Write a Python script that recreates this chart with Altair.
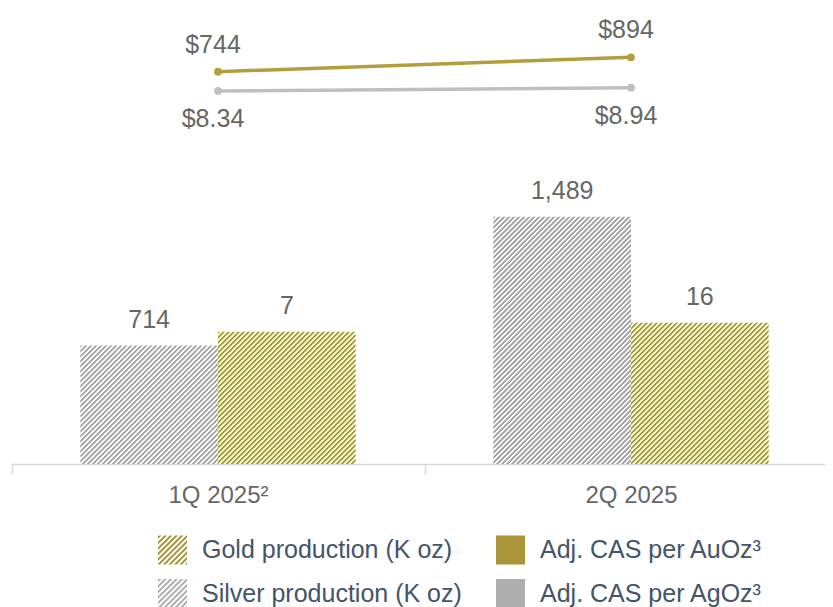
import math
import pandas as pd
import altair as alt

# ---------------- data ----------------
quarters = ["1Q 2025²", "2Q 2025"]
metals = ["Silver", "Gold"]
silver_production = [714, 1489]      # K oz
gold_production = [7, 16]            # K oz
cas_per_au = [744, 894]              # $ / AuOz
cas_per_ag = [8.34, 8.94]            # $ / AgOz
legend_labels = ["Gold production (K oz)", "Silver production (K oz)",
                 "Adj. CAS per AuOz³", "Adj. CAS per AgOz³"]

# ---------------- layout / style ----------------
W, H = 815, 456
X_RANGE = [1.5, 827.5]
SILVER_BAR_DOMAIN = [0, 2747]
GOLD_BAR_DOMAIN = [-125.3, 330.7]
AU_LINE_DOMAIN = [-3342.5, 1407.5]
AG_LINE_DOMAIN = [-59.48, 23.43]

GOLD_STRIPE, GOLD_BG = "#A59C2E", "#FBF8E2"
SILVER_STRIPE, SILVER_BG = "#A6A6A6", "#FFFFFF"
GOLD_LINE, SILVER_LINE = "#B39E3E", "#BFBFBF"
LEG_GOLD, LEG_SILVER = "#A99438", "#AEAEAE"
TXT = "#666666"
FONT = "Liberation Sans"


def hatch_gradient(w, h, stripe, bg, hperiod=5.0):
    """Diagonal '/' stripes with an exact horizontal period of hperiod px."""
    n = math.ceil((w + h) / hperiod)
    s = n * hperiod * w / (w * w + h * h)
    stops = []
    for i in range(n):
        a = i / n
        f = 1 / n
        stops += [{"offset": round(a, 6), "color": stripe},
                  {"offset": round(a + 0.38 * f, 6), "color": stripe},
                  {"offset": round(a + 0.52 * f, 6), "color": bg},
                  {"offset": round(a + 0.86 * f, 6), "color": bg}]
    stops.append({"offset": 1, "color": stripe})
    return {"gradient": "linear", "x1": 0, "y1": 0,
            "x2": round(s, 6), "y2": round(s * h / w, 6), "stops": stops}


def clip(poly, f):
    out = []
    for i in range(len(poly)):
        p, q = poly[i], poly[(i + 1) % len(poly)]
        fp, fq = f(p), f(q)
        if fp >= 0:
            out.append(p)
        if (fp >= 0) != (fq >= 0):
            t = fp / (fp - fq)
            out.append((p[0] + t * (q[0] - p[0]), p[1] + t * (q[1] - p[1])))
    return out


def hatch_path(period=0.38, duty=0.5):
    sq = [(-1, -1), (1, -1), (1, 1), (-1, 1)]
    parts = []
    c = -2.0 + 0.05
    while c < 2:
        c1, c2 = c, c + period * duty
        poly = clip(sq, lambda p: p[0] + p[1] - c1)
        poly = clip(poly, lambda p: c2 - p[0] - p[1])
        if len(poly) >= 3:
            parts.append("M " + " L ".join(f"{x:.3f} {y:.3f}" for x, y in poly) + " Z")
        c += period
    return " ".join(parts)


HATCH = hatch_path()

bars = pd.DataFrame({
    "quarter": quarters * 2,
    "metal": ["Silver"] * 2 + ["Gold"] * 2,
    "value": silver_production + gold_production,
})
cas = pd.DataFrame({"quarter": quarters, "au": cas_per_au, "ag": cas_per_ag})
leg = pd.DataFrame({"series": legend_labels})

x_enc = alt.X("quarter:N", sort=quarters,
              scale=alt.Scale(domain=quarters, range=X_RANGE, paddingInner=0, paddingOuter=0),
              axis=alt.Axis(title=None, labelAngle=0, domainColor="#D9D9D9", domainWidth=1.5,
                            tickColor="#D9D9D9", tickWidth=1.5, tickSize=10, tickBand="extent",
                            labelFont=FONT, labelFontSize=24, labelColor=TXT,
                            labelPadding=9, grid=False))
xo_enc = alt.XOffset("metal:N", sort=metals,
                     scale=alt.Scale(domain=metals, paddingInner=0, paddingOuter=0.5))

bw = ((X_RANGE[1] - X_RANGE[0]) / 2) / 3
layers = []
for i in range(len(bars)):
    row = bars.iloc[[i]]
    metal = row["metal"].iloc[0]
    v = row["value"].iloc[0]
    dom = SILVER_BAR_DOMAIN if metal == "Silver" else GOLD_BAR_DOMAIN
    h = (v - dom[0]) * H / (dom[1] - dom[0])
    if metal == "Silver":
        grad = hatch_gradient(bw, h, SILVER_STRIPE, SILVER_BG)
    else:
        grad = hatch_gradient(bw, h, GOLD_STRIPE, GOLD_BG)
    layers.append(
        alt.Chart(row).mark_bar(fill=grad).encode(
            x=x_enc, xOffset=xo_enc,
            y=alt.Y("value:Q", scale=alt.Scale(domain=dom, zero=False, nice=False), axis=None),
            y2=alt.datum(dom[0]),
        )
    )

for metal, dom in (("Silver", SILVER_BAR_DOMAIN), ("Gold", GOLD_BAR_DOMAIN)):
    layers.append(
        alt.Chart(bars[bars["metal"] == metal]).mark_text(
            baseline="alphabetic", dy=-17.5, font=FONT, fontSize=25, color=TXT
        ).encode(
            x=x_enc, xOffset=xo_enc,
            y=alt.Y("value:Q", scale=alt.Scale(domain=dom, zero=False, nice=False), axis=None),
            text=alt.Text("value:Q", format=","),
        )
    )

for field, dom, col, fmt, dy in (("au", AU_LINE_DOMAIN, GOLD_LINE, "$,.0f", -19),
                                 ("ag", AG_LINE_DOMAIN, SILVER_LINE, "$.2f", 36)):
    y_enc = alt.Y(f"{field}:Q", scale=alt.Scale(domain=dom, zero=False, nice=False), axis=None)
    base = alt.Chart(cas)
    layers.append(base.mark_line(color=col, strokeWidth=3.5).encode(x=x_enc, y=y_enc))
    layers.append(base.mark_circle(color=col, size=60, opacity=1).encode(x=x_enc, y=y_enc))
    layers.append(base.mark_text(baseline="alphabetic", dy=dy, dx=-5, font=FONT, fontSize=25,
                                 color=TXT).encode(x=x_enc, y=y_enc,
                                                   text=alt.Text(f"{field}:Q", format=fmt)))

legend_def = alt.Legend(title=None, orient="none", legendX=148, legendY=527.5, columns=2,
                        symbolSize=841, symbolStrokeWidth=0, symbolOpacity=1,
                        labelFont=FONT, labelFontSize=25, labelColor="#44546A",
                        labelOffset=15, columnPadding=34, rowPadding=14.5, padding=0,
                        labelLimit=500)
layers.append(
    alt.Chart(leg).mark_point(filled=True, opacity=0).encode(
        x=alt.value(0), y=alt.value(0),
        color=alt.Color("series:N", sort=legend_labels,
                        scale=alt.Scale(domain=legend_labels,
                                        range=[LEG_GOLD, LEG_SILVER, LEG_GOLD, LEG_SILVER]),
                        legend=legend_def),
        shape=alt.Shape("series:N", sort=legend_labels,
                        scale=alt.Scale(domain=legend_labels,
                                        range=[HATCH, HATCH, "square", "square"]),
                        legend=legend_def),
    )
)

chart = alt.layer(*layers).resolve_scale(y="independent").properties(
    width=W, height=H,
    padding={"left": 2, "top": 0, "right": 0, "bottom": 143},
    autosize=alt.AutoSizeParams(type="none"),
).configure(font=FONT).configure_view(stroke=None)

chart.save("out.html", embed_options={"renderer": "svg", "actions": False})
